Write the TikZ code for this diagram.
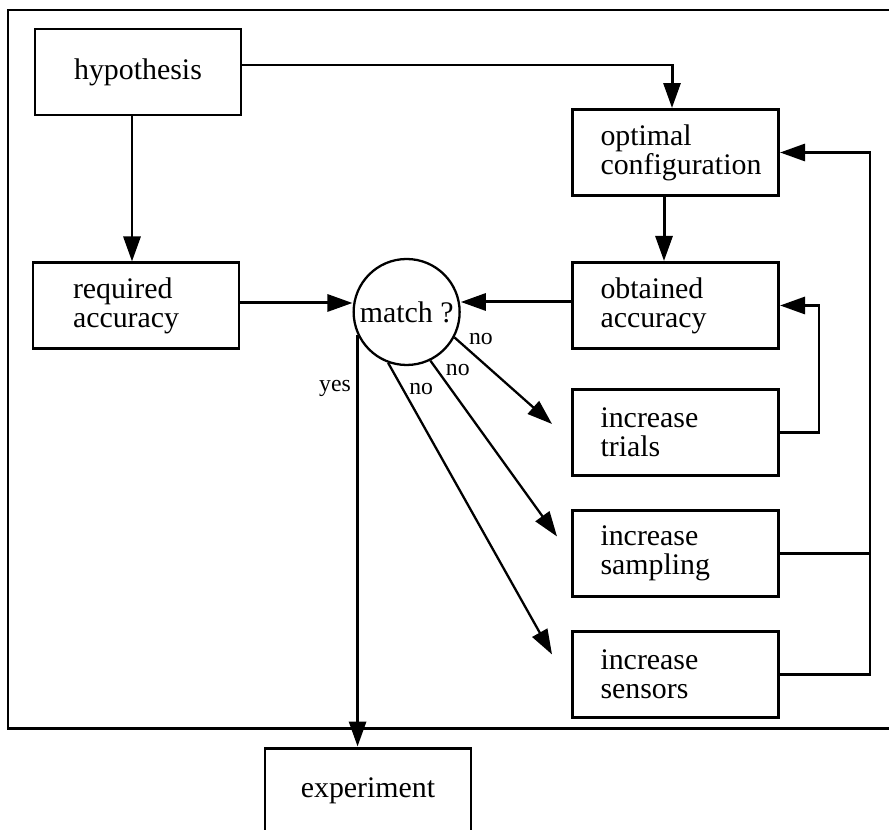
\documentclass[tikz,border=0pt]{standalone}
\usepackage{fontspec}
\setmainfont{Liberation Serif}
\usetikzlibrary{positioning,arrows.meta}
\hfuzz=2cm

\begin{document}
\begin{tikzpicture}[font=\fontsize{17pt}{16.5pt}\selectfont,
  >={Triangle[length=0.5cm,width=0.34cm]},
  box/.style={draw, line width=1.7pt, shape=rectangle, minimum width=4.12cm, minimum height=1.72cm, text width=3.0cm, align=left},
  arr/.style={->, line width=1.7pt},
  noarr/.style={->, line width=1.3pt},
  lbl/.style={font=\fontsize{13.5pt}{14pt}\selectfont, inner sep=1pt}]

      \useasboundingbox (0,0) rectangle (17.78,-16.6);
      \clip (0,0) rectangle (17.78,-16.6);
      \draw[line width=1.7pt] (0.16,-0.2) rectangle (18.5,-14.56);

      \node[box, align=center] (hypothesis) at (2.76,-1.44) {hypothesis};
      \node[box, text width=2.52cm, below=2.9cm of hypothesis, xshift=-0.04cm] (required) {required\\accuracy};
      \node[draw, circle, line width=1.3pt, minimum size=2.12cm, inner sep=0pt, right=2.24cm of required, yshift=-0.12cm] (match) {match ?};

      \node[box] (optimal) at (13.51,-3.05) {optimal\\configuration};
      \node[box, below=1.28cm of optimal] (obtained) {obtained\\accuracy};
      \node[box, below=0.76cm of obtained] (trials) {increase\\trials};
      \node[box, below=0.64cm of trials] (sampling) {increase\\sampling};
      \node[box, below=0.64cm of sampling] (sensors) {increase\\sensors};

      \node[box, align=center] (experiment) at (7.36,-15.82) {experiment};

      \draw [arr] ([yshift=0.14cm]hypothesis.east) -| ([xshift=-0.07cm]optimal.north);
      \draw [arr] ([xshift=-0.12cm]hypothesis.south) -- ([xshift=-0.12cm]hypothesis.south |- required.north);
      \draw [arr] ([xshift=-0.23cm]optimal.south) -- ([xshift=-0.23cm]optimal.south |- obtained.north);
      \draw [arr] ([yshift=0.06cm]required.east) -- ([yshift=0.06cm]required.east -| match.west);
      \draw [arr] ([yshift=0.07cm]obtained.west) -- ([yshift=0.07cm]obtained.west -| match.east);

      % feedback loops
      \draw [arr] (trials.east) -- ++(0.78,0) |- (obtained.east);
      \draw [arr] (sensors.east) -- ++(1.8,0) coordinate (bus) |- (optimal.east);
      \draw [line width=1.7pt] (sampling.east) -- (sampling.east -| bus);

      % decisions
      \draw [arr] (match.205) -- node[lbl, pos=0.13, left=2pt] {yes} (match.205 |- experiment.north);
      \draw [noarr] (match.-28) -- node[lbl, pos=0.12, above right] {no} ([xshift=-0.38cm, yshift=0.17cm]trials.west);
      \draw [noarr] (match.-64) -- node[lbl, pos=0.1, above right] {no} ([xshift=-0.28cm, yshift=0.34cm]sampling.west);
      \draw [noarr] (match.-110) -- node[lbl, pos=0.09, right=2pt] {no} ([xshift=-0.38cm, yshift=0.4cm]sensors.west);
\end{tikzpicture}
\end{document}
